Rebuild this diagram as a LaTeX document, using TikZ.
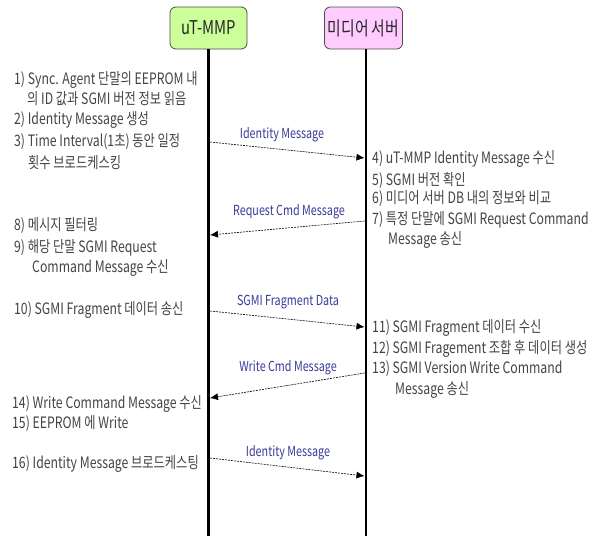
\documentclass[tikz,border=0pt]{standalone}
\usepackage{fontspec}
\setmainfont{Noto Sans CJK KR}[FakeStretch=0.78]
\usetikzlibrary{arrows.meta}
\definecolor{txt}{HTML}{444444}
\definecolor{lbl}{HTML}{3A3A99}
\definecolor{gbox}{HTML}{CCFF99}
\definecolor{pbox}{HTML}{FFCCFF}
\begin{document}
\begin{tikzpicture}[x=1pt,y=-1pt,
  actor/.style={draw=black!70,line width=0.8pt,rounded corners=6pt,minimum width=77pt,minimum height=42pt,font=\fontsize{19}{21}\selectfont,text=black!85},
  life/.style={line width=2.6pt},
  stxt/.style={anchor=west,inner sep=0pt,text=txt,font=\fontsize{15.7}{18}\selectfont},
  msg/.style={dashed,dash pattern=on 2pt off 1pt,line width=0.6pt,-{Latex[length=8pt,width=7pt]}},
  mlbl/.style={inner sep=0pt,text=lbl,font=\fontsize{13.8}{15}\selectfont}]
\useasboundingbox (0,0) rectangle (605,536);
\fill[white] (0,0) rectangle (605,536);
% actors
\node[actor,fill=gbox] (ut) at (208.5,28) {uT-MMP};
\node[actor,fill=pbox] (ms) at (363.5,28) {미디어 서버};
\coordinate (utend) at (208.5,536);
\coordinate (msend) at (366,536);
\draw[life] (ut.south) -- (utend);
\draw[life] (366,49) coordinate (mstop) -- (msend);
% left texts
\node[stxt] (t1) at (14,80) {1) Sync. Agent 단말의 EEPROM 내};
\node[stxt] (t1b) at (27,99) {의 ID 값과 SGMI 버전 정보 읽음};
\node[stxt] (t2) at (14,120) {2) Identity Message 생성};
\node[stxt] (t3) at (14,142) {3) Time Interval(1초) 동안 일정};
\node[stxt] (t3b) at (28,163) {횟수 브로드케스킹};
\node[stxt] (t8) at (14,226) {8) 메시지 필터링};
\node[stxt] (t9) at (14,248) {9) 해당 단말 SGMI Request};
\node[stxt] (t9b) at (32,268) {Command Message 수신};
\node[stxt] (t10) at (14,310) {10) SGMI Fragment 데이터 송신};
\node[stxt] (t14) at (12,404) {14) Write Command Message 수신};
\node[stxt] (t15) at (12,424) {15) EEPROM 에 Write};
\node[stxt] (t16) at (12,464) {16) Identity Message 브로드케스팅};
% right texts
\node[stxt] (t4) at (372,159) {4) uT-MMP Identity Message 수신};
\node[stxt] (t5) at (372,180) {5) SGMI 버전 확인};
\node[stxt] (t6) at (372,199) {6) 미디어 서버 DB 내의 정보와 비교};
\node[stxt] (t7) at (372,220) {7) 특정 단말에 SGMI Request Command};
\node[stxt] (t7b) at (388,240) {Message 송신};
\node[stxt] (t11) at (372,328) {11) SGMI Fragment 데이터 수신};
\node[stxt] (t12) at (372,349) {12) SGMI Fragement 조합 후 데이터 생성};
\node[stxt] (t13) at (372,369) {13) SGMI Version Write Command};
\node[stxt] (t13b) at (395,390) {Message 송신};
% message endpoints
\coordinate (a1s) at (210,142); \coordinate (a1e) at (364.5,158);
\coordinate (a2s) at (364.5,221); \coordinate (a2e) at (210,235);
\coordinate (a3s) at (210,311); \coordinate (a3e) at (364.5,327);
\coordinate (a4s) at (364.5,373); \coordinate (a4e) at (210,398);
\coordinate (a5s) at (210,458); \coordinate (a5e) at (364.5,476);
\draw[msg] (a1s) -- (a1e);
\draw[msg] (a2s) -- (a2e);
\draw[msg] (a3s) -- (a3e);
\draw[msg] (a4s) -- (a4e);
\draw[msg] (a5s) -- (a5e);
\node[mlbl] (l1) at (282,135) {Identity Message};
\node[mlbl] (l2) at (289,212) {Request Cmd Message};
\node[mlbl] (l3) at (288,302) {SGMI Fragment Data};
\node[mlbl] (l4) at (288,368) {Write Cmd Message};
\node[mlbl] (l5) at (288,453) {Identity Message};
\end{tikzpicture}
\end{document}
